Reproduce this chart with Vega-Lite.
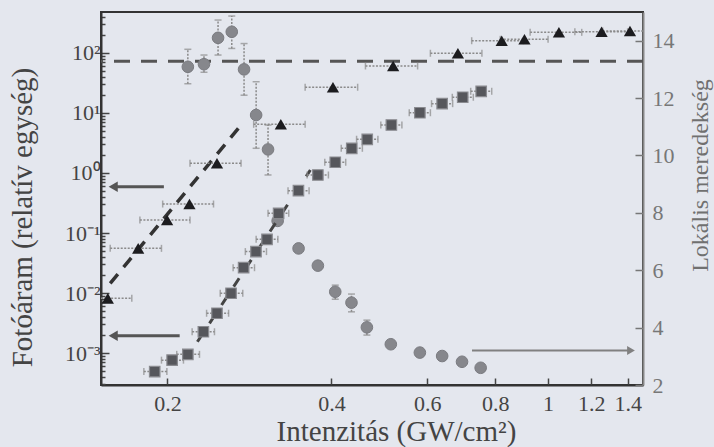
{
  "$schema": "https://vega.github.io/schema/vega-lite/v6.json",
  "width": 542,
  "height": 373,
  "autosize": "none",
  "padding": {"left": 101, "top": 12, "right": 71, "bottom": 62},
  "background": "#e4e7ee",
  "config": {
    "font": "Liberation Serif",
    "view": {"stroke": "#333333", "strokeWidth": 2},
    "axis": {"labelFont": "Liberation Serif", "titleFont": "Liberation Serif", "titleFontWeight": "normal", "grid": false}
  },
  "datasets": {
    "squares": [
      {"x": 0.1895, "y": 0.00049, "xlo": 0.181, "xhi": 0.1995},
      {"x": 0.204, "y": 0.00076, "xlo": 0.195, "xhi": 0.214},
      {"x": 0.218, "y": 0.00095, "xlo": 0.208, "xhi": 0.229},
      {"x": 0.2328, "y": 0.00226, "xlo": 0.222, "xhi": 0.244},
      {"x": 0.2466, "y": 0.0046, "xlo": 0.236, "xhi": 0.259},
      {"x": 0.2617, "y": 0.0099, "xlo": 0.25, "xhi": 0.275},
      {"x": 0.276, "y": 0.0264, "xlo": 0.264, "xhi": 0.289},
      {"x": 0.2908, "y": 0.049, "xlo": 0.278, "xhi": 0.304},
      {"x": 0.3047, "y": 0.0785, "xlo": 0.291, "xhi": 0.319},
      {"x": 0.32, "y": 0.213, "xlo": 0.306, "xhi": 0.334},
      {"x": 0.348, "y": 0.507, "xlo": 0.333, "xhi": 0.364},
      {"x": 0.3778, "y": 0.926, "xlo": 0.361, "xhi": 0.395},
      {"x": 0.4066, "y": 1.51, "xlo": 0.389, "xhi": 0.425},
      {"x": 0.436, "y": 2.58, "xlo": 0.417, "xhi": 0.456},
      {"x": 0.4655, "y": 3.64, "xlo": 0.445, "xhi": 0.487},
      {"x": 0.5155, "y": 6.31, "xlo": 0.493, "xhi": 0.539},
      {"x": 0.5815, "y": 10.1, "xlo": 0.556, "xhi": 0.608},
      {"x": 0.639, "y": 14.3, "xlo": 0.611, "xhi": 0.668},
      {"x": 0.697, "y": 18.3, "xlo": 0.667, "xhi": 0.729},
      {"x": 0.7537, "y": 23.0, "xlo": 0.721, "xhi": 0.788}
    ],
    "triangles": [
      {"x": 0.1554, "y": 0.00815, "xlo": 0.14, "xhi": 0.172},
      {"x": 0.1767, "y": 0.0555, "xlo": 0.157, "xhi": 0.195},
      {"x": 0.1997, "y": 0.165, "xlo": 0.178, "xhi": 0.22},
      {"x": 0.2195, "y": 0.304, "xlo": 0.196, "xhi": 0.243},
      {"x": 0.2466, "y": 1.45, "xlo": 0.22, "xhi": 0.273},
      {"x": 0.323, "y": 6.48, "xlo": 0.288, "xhi": 0.358},
      {"x": 0.4027, "y": 26.8, "xlo": 0.358, "xhi": 0.447},
      {"x": 0.5194, "y": 60.7, "xlo": 0.462, "xhi": 0.576},
      {"x": 0.683, "y": 98.9, "xlo": 0.608, "xhi": 0.756},
      {"x": 0.822, "y": 160, "xlo": 0.724, "xhi": 0.901},
      {"x": 0.905, "y": 169, "xlo": 0.817, "xhi": 1.0},
      {"x": 1.047, "y": 221, "xlo": 0.927, "xhi": 1.153},
      {"x": 1.254, "y": 226, "xlo": 1.12, "xhi": 1.4},
      {"x": 1.414, "y": 233, "xlo": 1.26, "xhi": 1.58}
    ],
    "circles": [
      {"x": 0.218, "s": 13.09}, {"x": 0.2334, "s": 13.18}, {"x": 0.2477, "s": 14.1},
      {"x": 0.2625, "s": 14.31}, {"x": 0.2765, "s": 13.0}, {"x": 0.291, "s": 11.41},
      {"x": 0.306, "s": 10.21}, {"x": 0.3187, "s": 7.72}, {"x": 0.3482, "s": 6.76},
      {"x": 0.3778, "s": 6.16}, {"x": 0.4066, "s": 5.25}, {"x": 0.4355, "s": 4.87},
      {"x": 0.4648, "s": 4.01}, {"x": 0.5143, "s": 3.42}, {"x": 0.5815, "s": 3.13},
      {"x": 0.639, "s": 3.01}, {"x": 0.695, "s": 2.81}, {"x": 0.752, "s": 2.6}
    ],
    "circleErr": [
      {"x": 0.218, "lo": 12.5, "hi": 13.7}, {"x": 0.2334, "lo": 12.9, "hi": 13.5},
      {"x": 0.2477, "lo": 13.5, "hi": 14.72}, {"x": 0.2625, "lo": 13.73, "hi": 14.86},
      {"x": 0.2765, "lo": 12.1, "hi": 13.9}, {"x": 0.291, "lo": 10.25, "hi": 12.57},
      {"x": 0.306, "lo": 9.32, "hi": 11.06}, {"x": 0.4066, "lo": 4.99, "hi": 5.48},
      {"x": 0.4355, "lo": 4.55, "hi": 5.17}, {"x": 0.4648, "lo": 3.74, "hi": 4.26}
    ],
    "fitTri": [{"x": 0.157, "y": 0.0145}, {"x": 0.27, "y": 5.56}],
    "fitSq": [{"x": 0.227, "y": 0.00154}, {"x": 0.366, "y": 1.12}],
    "hline": [{"s": 13.28}],
    "arrowsL": [{"tip": 0.159, "tail": 0.197, "y": 0.59}, {"tip": 0.159, "tail": 0.2106, "y": 0.00194}],
    "arrowsR": [{"tip": 1.42, "tail": 0.725, "s": 3.2}]
  },
  "layer": [
    {
      "layer": [
        {
          "data": {"name": "hline"},
          "mark": {"type": "rule", "color": "#555555", "strokeWidth": 3, "strokeDash": [16, 11]},
          "encoding": {
            "y": {"field": "s", "type": "quantitative",
              "scale": {"domain": [2, 15], "nice": false, "zero": false},
              "axis": {"orient": "right", "title": "Lokális meredekség", "values": [2,3,4,5,6,7,8,9,10,11,12,13,14,15],
                "labelExpr": "datum.value % 2 == 0 ? datum.label : ''",
                "tickSize": {"condition": {"test": "datum.value % 2 == 0", "value": -8}, "value": -4},
                "tickColor": "#777777", "tickWidth": 1.5, "domainColor": "#888888", "domainWidth": 2,
                "labelColor": "#777777", "labelFontSize": 22, "labelPadding": 17,
                "titleColor": "#707070", "titleFontSize": 24, "titleAngle": -90, "titleX": 57, "titleY": 163,
                "titleAlign": "center", "titleBaseline": "middle"}}
          }
        },
        {
          "data": {"name": "circleErr"},
          "mark": {"type": "rule", "color": "#8a8a8a", "strokeWidth": 1.5, "strokeDash": [2, 1.5]},
          "encoding": {
            "x": {"field": "x", "type": "quantitative", "scale": {"type": "log", "domain": [0.151, 1.494], "nice": false}},
            "y": {"field": "lo", "type": "quantitative"},
            "y2": {"field": "hi"}
          }
        },
        {
          "data": {"name": "circleErr"},
          "mark": {"type": "tick", "orient": "horizontal", "color": "#8a8a8a", "size": 7, "thickness": 1.5},
          "encoding": {
            "x": {"field": "x", "type": "quantitative"},
            "y": {"field": "lo", "type": "quantitative"}
          }
        },
        {
          "data": {"name": "circleErr"},
          "mark": {"type": "tick", "orient": "horizontal", "color": "#8a8a8a", "size": 7, "thickness": 1.5},
          "encoding": {
            "x": {"field": "x", "type": "quantitative"},
            "y": {"field": "hi", "type": "quantitative"}
          }
        },
        {
          "data": {"name": "circles"},
          "mark": {"type": "point", "shape": "circle", "filled": true, "size": 135, "color": "#86878c", "opacity": 1, "stroke": "#7a7b80", "strokeWidth": 1},
          "encoding": {
            "x": {"field": "x", "type": "quantitative",
              "scale": {"type": "log", "domain": [0.151, 1.494], "nice": false},
              "axis": {"title": "Intenzitás (GW/cm²)", "values": [0.2, 0.4, 0.6, 0.8, 1, 1.2, 1.4], "format": ".1~f",
                "tickSize": -7, "tickColor": "#444444", "tickWidth": 1.5, "domainColor": "#333333", "domainWidth": 2,
                "labelColor": "#444444", "labelFontSize": 22, "labelPadding": 15, "labelFlush": false,
                "titleColor": "#444444", "titleFontSize": 29, "titleX": 295, "titleY": 55, "titleAlign": "center", "titleBaseline": "alphabetic"}},
            "y": {"field": "s", "type": "quantitative"}
          }
        },
        {
          "data": {"name": "arrowsR"},
          "mark": {"type": "rule", "color": "#808080", "strokeWidth": 2},
          "encoding": {
            "x": {"field": "tail", "type": "quantitative"},
            "x2": {"field": "tip"},
            "y": {"field": "s", "type": "quantitative"}
          }
        },
        {
          "data": {"name": "arrowsR"},
          "mark": {"type": "point", "shape": "triangle-right", "filled": true, "size": 80, "color": "#808080", "opacity": 1},
          "encoding": {
            "x": {"field": "tip", "type": "quantitative"},
            "y": {"field": "s", "type": "quantitative"}
          }
        }
      ]
    },
    {
      "layer": [
        {
          "data": {"name": "fitSq"},
          "mark": {"type": "line", "color": "#444444", "strokeWidth": 3, "strokeDash": [10, 12]},
          "encoding": {
            "x": {"field": "x", "type": "quantitative", "scale": {"type": "log", "domain": [0.151, 1.494], "nice": false}},
            "y": {"field": "y", "type": "quantitative",
              "scale": {"type": "log", "domain": [0.000293, 482], "nice": false},
              "axis": {"orient": "left", "title": "Fotóáram (relatív egység)",
                "values": [0.0003,0.0004,0.0005,0.0006,0.0007,0.0008,0.0009,0.001,0.002,0.003,0.004,0.005,0.006,0.007,0.008,0.009,0.01,0.02,0.03,0.04,0.05,0.06,0.07,0.08,0.09,0.1,0.2,0.3,0.4,0.5,0.6,0.7,0.8,0.9,1,2,3,4,5,6,7,8,9,10,20,30,40,50,60,70,80,90,100,200,300,400],
                "labelExpr": "datum.value==100?'10²':datum.value==10?'10¹':datum.value==1?'10⁰':datum.value==0.1?'10⁻¹':datum.value==0.01?'10⁻²':datum.value==0.001?'10⁻³':''",
                "tickSize": {"condition": {"test": "indexof([0.001,0.01,0.1,1,10,100], datum.value) >= 0", "value": -8}, "value": -4},
                "tickColor": "#444444", "tickWidth": 1.5, "domainColor": "#333333", "domainWidth": 2,
                "labelColor": "#444444", "labelFontSize": 22, "labelPadding": 9, "labelFlush": false, "labelOverlap": false,
                "titleColor": "#444444", "titleFontSize": 29, "titleAngle": -90, "titleX": -79, "titleY": 205,
                "titleAlign": "center", "titleBaseline": "middle"}}
          }
        },
        {
          "data": {"name": "fitTri"},
          "mark": {"type": "line", "color": "#333333", "strokeWidth": 3.5, "strokeDash": [12, 9]},
          "encoding": {
            "x": {"field": "x", "type": "quantitative"},
            "y": {"field": "y", "type": "quantitative"}
          }
        },
        {
          "data": {"name": "squares"},
          "mark": {"type": "rule", "color": "#8a8a8a", "strokeWidth": 1.5, "strokeDash": [2, 1.5]},
          "encoding": {
            "x": {"field": "xlo", "type": "quantitative"},
            "x2": {"field": "xhi"},
            "y": {"field": "y", "type": "quantitative"}
          }
        },
        {
          "data": {"name": "squares"},
          "mark": {"type": "tick", "orient": "vertical", "color": "#8a8a8a", "size": 7, "thickness": 1.5},
          "encoding": {
            "x": {"field": "xlo", "type": "quantitative"},
            "y": {"field": "y", "type": "quantitative"}
          }
        },
        {
          "data": {"name": "squares"},
          "mark": {"type": "tick", "orient": "vertical", "color": "#8a8a8a", "size": 7, "thickness": 1.5},
          "encoding": {
            "x": {"field": "xhi", "type": "quantitative"},
            "y": {"field": "y", "type": "quantitative"}
          }
        },
        {
          "data": {"name": "squares"},
          "mark": {"type": "point", "shape": "square", "filled": true, "size": 110, "color": "#56575c", "opacity": 1, "stroke": "#8a8b90", "strokeWidth": 1.2},
          "encoding": {
            "x": {"field": "x", "type": "quantitative"},
            "y": {"field": "y", "type": "quantitative"}
          }
        },
        {
          "data": {"name": "triangles"},
          "mark": {"type": "rule", "color": "#8a8a8a", "strokeWidth": 1.5, "strokeDash": [2, 1.5], "clip": true},
          "encoding": {
            "x": {"field": "xlo", "type": "quantitative"},
            "x2": {"field": "xhi"},
            "y": {"field": "y", "type": "quantitative"}
          }
        },
        {
          "data": {"name": "triangles"},
          "mark": {"type": "tick", "orient": "vertical", "color": "#8a8a8a", "size": 7, "thickness": 1.5, "clip": true},
          "encoding": {
            "x": {"field": "xlo", "type": "quantitative"},
            "y": {"field": "y", "type": "quantitative"}
          }
        },
        {
          "data": {"name": "triangles"},
          "mark": {"type": "tick", "orient": "vertical", "color": "#8a8a8a", "size": 7, "thickness": 1.5, "clip": true},
          "encoding": {
            "x": {"field": "xhi", "type": "quantitative"},
            "y": {"field": "y", "type": "quantitative"}
          }
        },
        {
          "data": {"name": "triangles"},
          "mark": {"type": "point", "shape": "triangle-up", "filled": true, "size": 150, "color": "#1c1c1f", "opacity": 1},
          "encoding": {
            "x": {"field": "x", "type": "quantitative"},
            "y": {"field": "y", "type": "quantitative"}
          }
        },
        {
          "data": {"name": "arrowsL"},
          "mark": {"type": "rule", "color": "#555555", "strokeWidth": 3},
          "encoding": {
            "x": {"field": "tip", "type": "quantitative"},
            "x2": {"field": "tail"},
            "y": {"field": "y", "type": "quantitative"}
          }
        },
        {
          "data": {"name": "arrowsL"},
          "mark": {"type": "point", "shape": "triangle-left", "filled": true, "size": 110, "color": "#555555", "opacity": 1},
          "encoding": {
            "x": {"field": "tip", "type": "quantitative"},
            "y": {"field": "y", "type": "quantitative"}
          }
        }
      ]
    }
  ],
  "resolve": {"scale": {"y": "independent"}, "axis": {"y": "independent"}}
}
